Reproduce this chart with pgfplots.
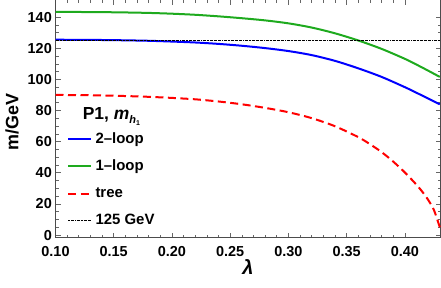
\documentclass[border=0pt]{standalone}
\usepackage{fontspec}
\setmainfont{Liberation Sans}
\usepackage{pgfplots}
\pgfplotsset{compat=1.18}
\definecolor{mgreen}{RGB}{30,170,30}
\begin{document}
\begin{tikzpicture}
\useasboundingbox (-55.5bp,-50.3bp) rectangle (385.5bp,237.7bp);
\begin{axis}[
  at={(0,0)}, anchor=south west,
  scale only axis, width=385bp, height=237.7bp,
  xmin=0.1, xmax=0.4306, ymin=-1.7, ymax=151,
  xtick={0.10,0.15,0.20,0.25,0.30,0.35,0.40},
  xticklabels={0.10,0.15,0.20,0.25,0.30,0.35,0.40},
  ytick={0,20,40,60,80,100,120,140},
  minor x tick num=4, minor y tick num=3,
  major tick length=5bp, minor tick length=3bp,
  tick style={black!60, line width=0.6bp},
  axis line style={black!70, line width=1bp},
  /pgf/number format/assume math mode=true,
  xticklabel style={font=\bfseries\fontsize{14.5}{16}\selectfont, inner sep=0bp, yshift=-9bp},
  yticklabel style={font=\bfseries\fontsize{14.5}{16}\selectfont, inner sep=0bp, xshift=-3.5bp},
  xlabel={\textbf{\textit{λ}}},
  ylabel={\textbf{m/GeV}},
  xlabel style={font=\fontsize{20}{22}\selectfont, at={(axis description cs:0.5,-0.122)}, anchor=center},
  ylabel style={font=\fontsize{18}{20}\selectfont, at={(axis description cs:-0.113,0.488)}, anchor=center},
  legend image code/.code={\draw[#1] (0bp,0bp) -- (22.6bp,0bp);},
  legend cell align=left,
  legend style={at={(rel axis cs:0.0299,0.445)}, anchor=north west, draw=none, fill=none,
    inner sep=0bp, row sep=12.6bp, column sep=0bp,
    font=\bfseries\fontsize{15}{17}\selectfont,
    nodes={inner ysep=0bp, inner xsep=3.7bp, text height=11bp, text depth=3.5bp}},
]
\addplot[blue, line width=2bp, smooth] coordinates {
(0.10,125.5) (0.12,125.4) (0.14,125.3) (0.16,125.1) (0.18,124.8) (0.20,124.3)
(0.22,123.7) (0.24,122.8) (0.26,121.6) (0.28,120.1) (0.30,118.2) (0.32,115.6)
(0.34,111.9) (0.36,107.1) (0.38,101.6) (0.40,95.0) (0.41,91.4) (0.42,87.7) (0.43,84.0)};
\addlegendentry{2--loop}
\addplot[mgreen, line width=2bp, smooth] coordinates {
(0.10,143.4) (0.12,143.3) (0.14,143.2) (0.16,143.0) (0.18,142.7) (0.20,142.2)
(0.22,141.5) (0.24,140.5) (0.26,139.3) (0.28,137.9) (0.30,136.0) (0.32,133.3)
(0.34,129.6) (0.36,125.0) (0.38,119.6) (0.40,113.2) (0.41,109.5) (0.42,105.6) (0.43,101.6)};
\addlegendentry{1--loop}
\addplot[red, line width=2bp, smooth, dash pattern=on 8bp off 4.5bp] coordinates {
(0.10,90.0) (0.12,89.9) (0.14,89.7) (0.16,89.3) (0.18,88.8) (0.20,88.1)
(0.22,87.2) (0.24,85.8) (0.26,84.0) (0.28,81.7) (0.30,78.9) (0.32,75.1)
(0.34,69.9) (0.36,62.9) (0.37,58.4) (0.38,53.3) (0.39,47.2) (0.40,40.2)
(0.41,32.3) (0.415,27.8) (0.42,22.6) (0.425,16.0) (0.43,5.0)};
\addlegendentry{tree}
\addplot[black, line width=0.6bp, dash pattern=on 2bp off 0.8bp on 0.6bp off 0.8bp] coordinates {
(0.10,125) (0.4306,125)};
\addlegendentry{125 GeV}
\node[anchor=base west, inner sep=0bp, font=\bfseries\fontsize{17.5}{19}\selectfont]
  at (rel axis cs:0.0705,0.497) {P1, \textit{m}\raisebox{-3.5bp}{\fontsize{11}{11}\selectfont\textit{h}\raisebox{-2bp}{\fontsize{7}{7}\selectfont 1}}};
\end{axis}
\end{tikzpicture}
\end{document}
